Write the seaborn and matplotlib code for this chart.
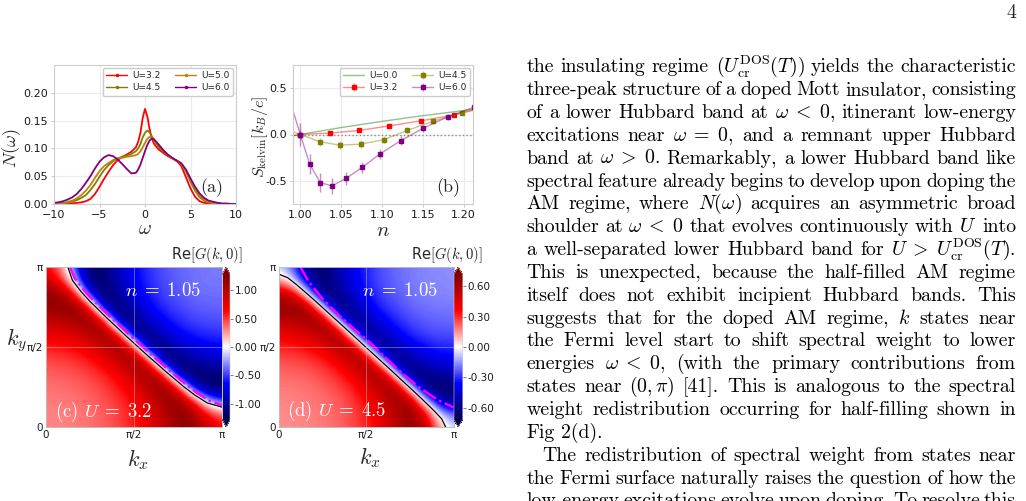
import numpy as np
import matplotlib
matplotlib.use("Agg")
import matplotlib.pyplot as plt
import seaborn as sns
from matplotlib.lines import Line2D
from matplotlib.colors import to_rgba
from matplotlib.ticker import FormatStrFormatter

W, H = 1026, 501

# ---- panel (a): N(omega) for several U
omega = [-10, -9.5, -9, -8.5, -8, -7.5, -7, -6.5, -6, -5.5, -5, -4.5, -4, -3.5, -3, -2.5, -2, -1.5, -1,
         -0.75, -0.5, -0.25, 0, 0.25, 0.5, 0.75, 1,
         1.5, 2, 2.5, 3, 3.5, 4, 4.5, 5, 5.5, 6, 6.5, 7, 7.5, 8, 8.5, 9, 9.5, 10]
dos_u32 = [0, 0, 0, 0, 0.001, 0.002, 0.003, 0.005, 0.009, 0.018, 0.031, 0.045, 0.058, 0.07, 0.079, 0.085, 0.089, 0.094, 0.102,
           0.112, 0.128, 0.155, 0.171, 0.158, 0.135, 0.118, 0.108,
           0.098, 0.092, 0.086, 0.082, 0.077, 0.068, 0.048, 0.028, 0.013, 0.005, 0.002, 0.001, 0, 0, 0, 0, 0, 0]
dos_u45 = [0, 0.001, 0.001, 0.002, 0.004, 0.007, 0.011, 0.016, 0.025, 0.036, 0.049, 0.061, 0.07, 0.077, 0.082, 0.085, 0.087, 0.09, 0.095,
           0.1, 0.108, 0.12, 0.128, 0.132, 0.129, 0.122, 0.115,
           0.102, 0.095, 0.088, 0.082, 0.078, 0.072, 0.058, 0.04, 0.024, 0.012, 0.006, 0.003, 0.001, 0.001, 0, 0, 0, 0]
dos_u50 = [0.001, 0.001, 0.002, 0.004, 0.006, 0.01, 0.016, 0.024, 0.034, 0.047, 0.059, 0.068, 0.074, 0.079, 0.082, 0.083, 0.085, 0.086, 0.088,
           0.09, 0.095, 0.102, 0.11, 0.117, 0.121, 0.12, 0.116,
           0.106, 0.097, 0.088, 0.082, 0.078, 0.072, 0.06, 0.043, 0.028, 0.015, 0.008, 0.004, 0.002, 0.001, 0, 0, 0, 0]
dos_u60 = [0.002, 0.003, 0.005, 0.008, 0.012, 0.018, 0.027, 0.038, 0.05, 0.064, 0.076, 0.084, 0.088, 0.086, 0.08, 0.072, 0.063, 0.055, 0.056,
           0.062, 0.071, 0.083, 0.095, 0.106, 0.114, 0.118, 0.116,
           0.107, 0.097, 0.089, 0.083, 0.078, 0.073, 0.062, 0.046, 0.031, 0.019, 0.011, 0.006, 0.004, 0.002, 0.001, 0.001, 0, 0]
dos_labels = ["U=3.2", "U=4.5", "U=5.0", "U=6.0"]
dos_colors = ["red", "olive", "darkgoldenrod", "purple"]

# ---- panel (b): Kelvin thermopower vs filling n
n_u00 = [0.985, 1.0, 1.05, 1.10, 1.15, 1.20, 1.215]
s_u00 = [-0.02, 0.0, 0.075, 0.142, 0.203, 0.258, 0.275]
n_u32 = [0.987, 1.0, 1.036, 1.072, 1.109, 1.148, 1.188, 1.229]
s_u32 = [-0.02, 0.0, 0.015, 0.044, 0.093, 0.148, 0.211, 0.297]
e_u32 = [0.01, 0.01, 0.015, 0.015, 0.018, 0.018, 0.02, 0.02]
n_u45 = [0.977, 1.0, 1.024, 1.048, 1.074, 1.102, 1.131, 1.163, 1.198, 1.236]
s_u45 = [0.077, 0.0, -0.078, -0.115, -0.104, -0.056, 0.044, 0.144, 0.237, 0.33]
e_u45 = [0.04, 0.05, 0.045, 0.04, 0.04, 0.035, 0.035, 0.03, 0.03, 0.03]
n_u60 = [0.986, 1.0, 1.0114, 1.0245, 1.0388, 1.0559, 1.0755, 1.098, 1.1229, 1.1502, 1.1804, 1.2122]
s_u60 = [0.40, 0.0, -0.32, -0.52, -0.555, -0.474, -0.356, -0.207, -0.067, 0.067, 0.19, 0.293]
e_u60 = [0.12, 0.12, 0.105, 0.1, 0.09, 0.07, 0.06, 0.055, 0.05, 0.04, 0.035, 0.04]
kel_labels = ["U=0.0", "U=3.2", "U=4.5", "U=6.0"]
kel_colors = ["green", "red", "olive", "purple"]

# ---- panels (c), (d): Re G(k, omega=0) on a 13x13 grid, kx, ky = 0..pi (rows = ky)
reg_c = [
    [0.31, 0.31, 0.33, 0.36, 0.40, 0.47, 0.57, 0.72, 0.93, 1.16, 1.19, 0.87, 0.65],
    [0.31, 0.32, 0.33, 0.36, 0.41, 0.48, 0.59, 0.75, 0.97, 1.20, 1.13, 0.65, 0.37],
    [0.33, 0.33, 0.35, 0.39, 0.44, 0.52, 0.64, 0.83, 1.08, 1.22, 0.65, -0.23, -0.52],
    [0.36, 0.36, 0.39, 0.42, 0.49, 0.59, 0.75, 0.99, 1.23, 0.65, -0.71, -1.15, -1.21],
    [0.40, 0.41, 0.44, 0.49, 0.57, 0.71, 0.93, 1.21, 0.65, -0.98, -1.22, -1.14, -1.10],
    [0.47, 0.48, 0.52, 0.59, 0.71, 0.91, 1.20, 0.65, -1.11, -1.16, -0.98, -0.88, -0.84],
    [0.57, 0.59, 0.64, 0.75, 0.93, 1.20, 0.65, -1.15, -1.10, -0.88, -0.74, -0.67, -0.65],
    [0.72, 0.75, 0.83, 0.99, 1.21, 0.65, -1.15, -1.08, -0.83, -0.67, -0.58, -0.54, -0.52],
    [0.93, 0.97, 1.08, 1.23, 0.65, -1.11, -1.10, -0.83, -0.65, -0.54, -0.48, -0.45, -0.44],
    [1.16, 1.20, 1.22, 0.65, -0.98, -1.16, -0.88, -0.67, -0.54, -0.47, -0.42, -0.40, -0.39],
    [1.19, 1.13, 0.65, -0.71, -1.22, -0.98, -0.74, -0.58, -0.48, -0.42, -0.38, -0.36, -0.36],
    [0.87, 0.65, -0.23, -1.15, -1.14, -0.88, -0.67, -0.54, -0.45, -0.40, -0.36, -0.34, -0.34],
    [0.65, 0.37, -0.52, -1.21, -1.10, -0.84, -0.65, -0.52, -0.44, -0.39, -0.36, -0.34, -0.33],
]
reg_d = [
    [0.16, 0.16, 0.17, 0.19, 0.21, 0.25, 0.31, 0.40, 0.54, 0.67, 0.55, 0.13, -0.06],
    [0.16, 0.17, 0.18, 0.19, 0.22, 0.26, 0.32, 0.42, 0.56, 0.68, 0.45, -0.06, -0.24],
    [0.17, 0.18, 0.19, 0.20, 0.23, 0.28, 0.35, 0.47, 0.63, 0.61, -0.06, -0.51, -0.60],
    [0.19, 0.19, 0.20, 0.23, 0.26, 0.32, 0.42, 0.57, 0.67, -0.06, -0.64, -0.67, -0.66],
    [0.21, 0.22, 0.23, 0.26, 0.31, 0.39, 0.54, 0.68, -0.06, -0.68, -0.61, -0.55, -0.52],
    [0.25, 0.26, 0.28, 0.32, 0.39, 0.52, 0.68, -0.06, -0.68, -0.56, -0.46, -0.41, -0.39],
    [0.31, 0.32, 0.35, 0.42, 0.54, 0.68, -0.06, -0.67, -0.52, -0.41, -0.35, -0.31, -0.31],
    [0.40, 0.42, 0.47, 0.57, 0.68, -0.06, -0.67, -0.51, -0.39, -0.31, -0.27, -0.25, -0.25],
    [0.54, 0.56, 0.63, 0.67, -0.06, -0.68, -0.52, -0.39, -0.31, -0.26, -0.23, -0.22, -0.21],
    [0.67, 0.68, 0.61, -0.06, -0.68, -0.56, -0.41, -0.31, -0.26, -0.22, -0.20, -0.19, -0.19],
    [0.55, 0.45, -0.06, -0.64, -0.61, -0.46, -0.35, -0.27, -0.23, -0.20, -0.18, -0.17, -0.17],
    [0.13, -0.06, -0.51, -0.67, -0.55, -0.41, -0.31, -0.25, -0.22, -0.19, -0.17, -0.17, -0.16],
    [-0.06, -0.24, -0.60, -0.66, -0.52, -0.39, -0.31, -0.25, -0.21, -0.19, -0.17, -0.16, -0.16],
]
# Fermi surface lines (units of pi): black = interacting, magenta = reference
fs_c_kx = [0.124, 0.15, 0.2, 0.25, 0.3, 0.35, 0.4, 0.45, 0.512, 0.574, 0.626, 0.677, 0.731, 0.785, 0.845, 0.917, 1.0]
fs_c_ky = [1.0, 0.917, 0.845, 0.785, 0.731, 0.677, 0.626, 0.574, 0.512, 0.45, 0.4, 0.35, 0.3, 0.25, 0.2, 0.15, 0.124]
mg_c_kx = [0.136, 0.163, 0.213, 0.263, 0.313, 0.363, 0.413, 0.463, 0.525, 0.587, 0.639, 0.69, 0.744, 0.798, 0.858, 0.93, 1.0]
mg_c_ky = [1.0, 0.93, 0.858, 0.798, 0.744, 0.69, 0.639, 0.587, 0.525, 0.463, 0.413, 0.363, 0.313, 0.263, 0.213, 0.163, 0.136]
fs_d_kx = [0.0, 0.05, 0.1, 0.15, 0.2, 0.25, 0.3, 0.35, 0.4, 0.45, 0.498, 0.547, 0.597, 0.647, 0.696, 0.746, 0.795, 0.843, 0.89, 0.933, 0.955]
fs_d_ky = [0.955, 0.933, 0.89, 0.843, 0.795, 0.746, 0.696, 0.647, 0.597, 0.547, 0.498, 0.45, 0.4, 0.35, 0.3, 0.25, 0.2, 0.15, 0.1, 0.05, 0.0]
mg_d_kx = [0.122, 0.17, 0.247, 0.342, 0.438, 0.525, 0.606, 0.7, 0.804, 0.908, 1.0]
mg_d_ky = [1.0, 0.908, 0.804, 0.7, 0.606, 0.525, 0.438, 0.342, 0.247, 0.17, 0.122]
cbar_ticks_c = [-1.0, -0.5, 0.0, 0.5, 1.0]
cbar_ticks_d = [-0.6, -0.3, 0.0, 0.3, 0.6]
k_tick_labels = ["0", "π/2", "π"]

# ---- right-hand text column
body_lines = [
    r"the insulating regime ($U_{\mathrm{cr}}^{\mathrm{DOS}}(T)$) yields the characteristic",
    r"three-peak structure of a doped Mott insulator, consisting",
    r"of a lower Hubbard band at $\omega\;<\;0$, itinerant low-energy",
    r"excitations near $\omega\;=\;0$, and a remnant upper Hubbard",
    r"band at $\omega\;>\;0$. Remarkably, a lower Hubbard band like",
    r"spectral feature already begins to develop upon doping the",
    r"AM regime, where $N(\omega)$ acquires an asymmetric broad",
    r"shoulder at $\omega\;<\;0$ that evolves continuously with $U$ into",
    r"a well-separated lower Hubbard band for $U\;>\;U_{\mathrm{cr}}^{\mathrm{DOS}}(T)$.",
    r"This is unexpected, because the half-filled AM regime",
    r"itself does not exhibit incipient Hubbard bands. This",
    r"suggests that for the doped AM regime, $k$ states near",
    r"the Fermi level start to shift spectral weight to lower",
    r"energies $\omega\;<\;0$, (with the primary contributions from",
    r"states near $(0,\pi)$ [41]. This is analogous to the spectral",
    r"weight redistribution occurring for half-filling shown in",
    r"Fig 2(d).",
    r"The redistribution of spectral weight from states near",
    r"the Fermi surface naturally raises the question of how the",
    r"low-energy excitations evolve upon doping. To resolve this",
]
ragged_lines = [16]
indented_lines = [17]

sns.set_theme(style="whitegrid")
plt.rcParams["font.family"] = ["DejaVu Sans"]
plt.rcParams.update({
    "mathtext.fontset": "cm",
    "axes.edgecolor": "0.8",
    "axes.linewidth": 0.8,
    "grid.color": "0.92",
    "grid.linewidth": 0.8,
    "xtick.bottom": True,
    "ytick.left": True,
    "xtick.major.size": 2.5,
    "ytick.major.size": 2.5,
    "xtick.major.width": 0.6,
    "ytick.major.width": 0.6,
    "xtick.major.pad": 1.5,
    "ytick.major.pad": 2,
    "xtick.color": "0.75",
    "ytick.color": "0.75",
    "xtick.labelcolor": "0.1",
    "ytick.labelcolor": "0.1",
    "xtick.labelsize": 8,
    "ytick.labelsize": 8,
})

fig = plt.figure(figsize=(W / 100, H / 100), dpi=100)


def px_axes(left, top, right, bottom):
    return fig.add_axes([left / W, 1 - bottom / H, (right - left) / W, (bottom - top) / H])


def fig_text(x, y, s, **kw):
    return fig.text(x / W, 1 - y / H, s, **kw)


ax_a = px_axes(54, 65, 236, 204)
ax_b = px_axes(293, 65, 473, 204)
ax_c = px_axes(46, 267, 222, 427)
cax_c = px_axes(222.5, 267, 230, 427)
ax_d = px_axes(279, 267, 453.5, 427)
cax_d = px_axes(454, 267, 462.5, 427)

# panel (a)
for y, col in zip([dos_u32, dos_u45, dos_u50, dos_u60], dos_colors):
    sns.lineplot(x=omega, y=y, color=col, lw=1.3, ax=ax_a, legend=False)
ax_a.set(xlim=(-10, 10), ylim=(0, 0.25), xlabel="", ylabel="")
ax_a.set_xticks([-10, -5, 0, 5, 10])
ax_a.set_yticks([0, 0.05, 0.10, 0.15, 0.20])
ax_a.yaxis.set_major_formatter(FormatStrFormatter("%.2f"))
handles_a = [Line2D([], [], color=c, lw=1, marker=".", ms=3) for c in dos_colors]
ax_a.legend(handles_a, dos_labels, ncol=2, fontsize=6.5, loc="upper right", frameon=True,
            edgecolor="0.8", framealpha=1, borderpad=0.4, labelspacing=0.3, handlelength=2.3,
            columnspacing=1.6, borderaxespad=0.3, handletextpad=0.6)
ax_a.text(0.93, 0.12, "(a)", transform=ax_a.transAxes, family="cmr10", fontsize=13,
          ha="right", va="center")
fig_text(12, 148, r"$N(\omega)$", fontsize=13, rotation=90, ha="center", va="center")
fig_text(145, 234, r"$\omega$", fontsize=14, ha="center", va="baseline")

# panel (b)
ax_b.axhline(0, color="0.55", ls=":", lw=1)
sns.lineplot(x=n_u00, y=s_u00, color="green", alpha=0.45, lw=1, ax=ax_b, legend=False)
for n, s, e, col in zip([n_u32, n_u45, n_u60], [s_u32, s_u45, s_u60], [e_u32, e_u45, e_u60], kel_colors[1:]):
    sns.lineplot(x=n, y=s, color=col, alpha=0.45, lw=1, ax=ax_b, legend=False)
    ax_b.errorbar(n, s, yerr=e, fmt="none", ecolor=to_rgba(col, 0.45), elinewidth=1, capsize=0)
    ax_b.plot(n, s, "s", color=col, ms=2.6)
ax_b.set(xlim=(0.991, 1.2115), ylim=(-0.75, 0.75), xlabel="", ylabel="")
ax_b.set_xticks([1.00, 1.05, 1.10, 1.15, 1.20])
ax_b.xaxis.set_major_formatter(FormatStrFormatter("%.2f"))
ax_b.set_yticks([-0.5, 0.0, 0.5])
ax_b.yaxis.set_major_formatter(FormatStrFormatter("%.1f"))
handles_b = [Line2D([], [], color=to_rgba("green", 0.45), lw=1)]
for col in kel_colors[1:]:
    handles_b.append((Line2D([], [], color=to_rgba(col, 0.45), lw=1, marker="s", ms=2.6, mfc=col, mec=col),
                      Line2D([], [], ls="none", marker="|", ms=6, mew=1, color=to_rgba(col, 0.45))))
ax_b.legend(handles_b, kel_labels, ncol=2, fontsize=6.5, loc="upper right", frameon=True,
            edgecolor="0.8", framealpha=1, borderpad=0.4, labelspacing=0.3, handlelength=2.3,
            columnspacing=1.6, borderaxespad=0.3, handletextpad=0.6)
ax_b.text(0.93, 0.12, "(b)", transform=ax_b.transAxes, family="cmr10", fontsize=13,
          ha="right", va="center")
fig_text(260, 137, r"$S_{\mathrm{kelvin}}[k_B/e]$", fontsize=11.5, rotation=90, ha="center", va="center")
fig_text(383, 236, r"$n$", fontsize=15, ha="center", va="baseline")


def draw_map(ax, cax, grid, vmax, cticks, fs_kx, fs_ky, mg_kx, mg_ky, label, n_xy, lab_xy):
    g = np.array(grid)
    step = np.pi / (g.shape[1] - 1)
    im = ax.imshow(g, origin="lower", cmap="seismic", vmin=-vmax, vmax=vmax, interpolation="bicubic",
                   extent=[-step / 2, np.pi + step / 2, -step / 2, np.pi + step / 2], aspect="auto")
    ax.plot(np.array(mg_kx) * np.pi, np.array(mg_ky) * np.pi, color="magenta", ls="-.", lw=1.7)
    ax.plot(np.array(fs_kx) * np.pi, np.array(fs_ky) * np.pi, color="black", lw=0.9)
    ax.set_xlim(0, np.pi)
    ax.set_ylim(0, np.pi)
    ax.set_xticks([0, np.pi / 2, np.pi])
    ax.set_yticks([0, np.pi / 2, np.pi])
    ax.set_xticklabels(k_tick_labels)
    ax.set_yticklabels(k_tick_labels)
    ax.tick_params(length=0, labelsize=7.5, pad=2)
    ax.set_axisbelow(False)
    ax.grid(True, color="0.8", lw=0.6, alpha=0.5)
    for sp in ax.spines.values():
        sp.set_color("0.7")
        sp.set_linewidth(0.6)
    ax.text(n_xy[0], n_xy[1], r"$n\;=\;1.05$", transform=ax.transAxes, color="white",
            fontsize=13.5, ha="center", va="center")
    ax.text(lab_xy[0], lab_xy[1], label, transform=ax.transAxes, color="white",
            family="cmr10", fontsize=13.5, ha="left", va="center")
    cb = fig.colorbar(im, cax=cax, extend="both", ticks=cticks, format="%.2f")
    cax.grid(False)
    cb.outline.set_linewidth(0.4)
    cb.ax.tick_params(labelsize=7.5, length=2, width=0.5, color="0.3", pad=1.5)


draw_map(ax_c, cax_c, reg_c, 1.28, cbar_ticks_c, fs_c_kx, fs_c_ky, mg_c_kx, mg_c_ky,
         r"(c) $U\;=\;3.2$", (0.666, 0.854), (0.05, 0.095))
draw_map(ax_d, cax_d, reg_d, 0.72, cbar_ticks_d, fs_d_kx, fs_d_ky, mg_d_kx, mg_d_ky,
         r"(d) $U\;=\;4.5$", (0.694, 0.854), (0.046, 0.1))
fig_text(207, 255, r"Re$[G(k,0)]$", fontsize=10.5, ha="center", va="center")
fig_text(447, 255, r"Re$[G(k,0)]$", fontsize=10.5, ha="center", va="center")
fig_text(17, 340, r"$k_y$", fontsize=16, ha="center", va="center")
fig_text(138, 460, r"$k_x$", fontsize=16, ha="center", va="center")
fig_text(370, 458, r"$k_x$", fontsize=16, ha="center", va="center")

# text column, justified word by word
renderer = fig.canvas.get_renderer()
X0, X1 = 526.5, 1016.0
BODY = 14.3
for i, line in enumerate(body_lines):
    y_base = 68 + 22.85 * i + 4.3
    indent = 16 if i in indented_lines else 0
    words = line.split(" ")
    avail = X1 - X0 - indent
    size = BODY
    for attempt in range(2):
        objs = [fig.text(0, 0, w, fontsize=size, family="cmr10", color="black", va="baseline") for w in words]
        widths = [o.get_window_extent(renderer).width for o in objs]
        if sum(widths) + 3 * (len(words) - 1) <= avail or attempt == 1:
            break
        for o in objs:
            o.remove()
        size *= (avail - 3 * (len(words) - 1)) / sum(widths)
    if i in ragged_lines or len(words) == 1:
        gap = 6.6
    else:
        gap = (avail - sum(widths)) / (len(words) - 1)
    x = X0 + indent
    for o, w in zip(objs, widths):
        o.set_position((x / W, 1 - y_base / H))
        x += w + gap
fig_text(1011.5, 18.5, "4", family="cmr10", fontsize=14.3, ha="center", va="baseline")

fig.savefig("out.png", dpi=100)
